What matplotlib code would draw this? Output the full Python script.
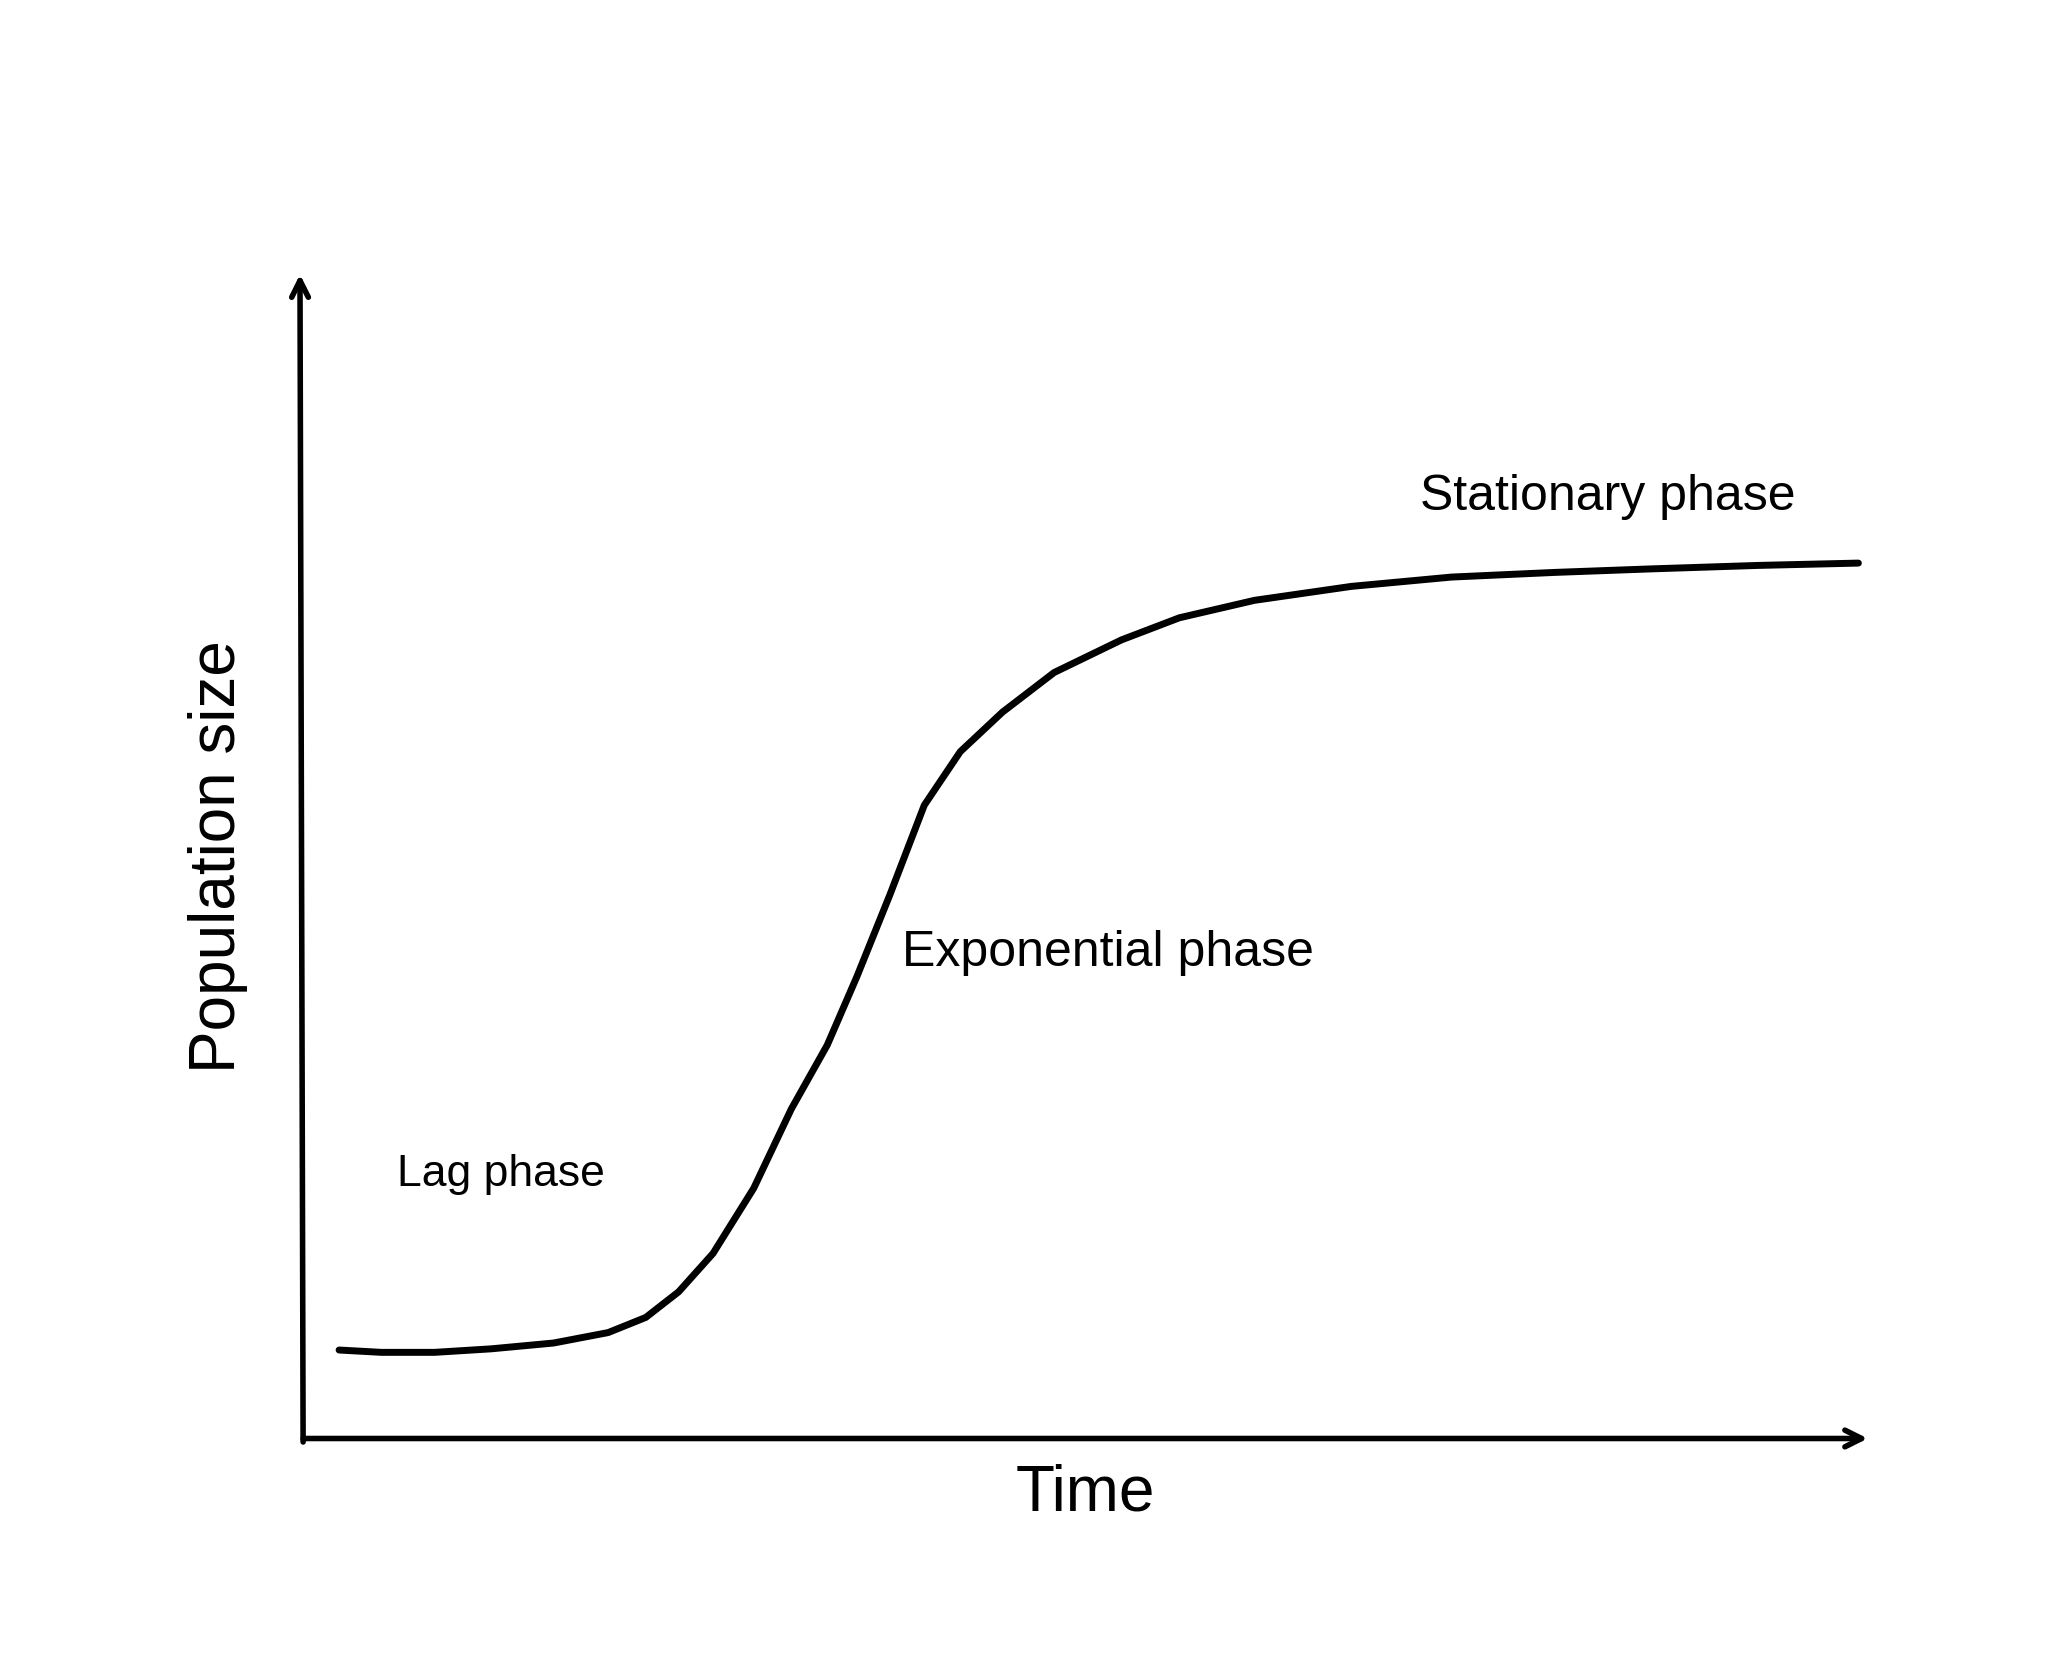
import matplotlib
matplotlib.use("Agg")
import matplotlib.pyplot as plt

plt.rcParams['font.family'] = ['Liberation Sans', 'DejaVu Sans']

time = [2.3, 5, 8.4, 12, 16.0, 19.5, 21.9, 24, 26.2, 28.8, 31.2, 33.5, 35.4, 37.5, 39.7, 42, 44.7, 48, 52.3, 56, 60.8, 67, 73.4, 80, 86.1, 93, 99.4]
population = [7.6, 7.4, 7.4, 7.7, 8.2, 9.1, 10.4, 12.6, 15.9, 21.5, 28.3, 33.8, 39.7, 46.7, 54.4, 59.0, 62.4, 65.8, 68.6, 70.5, 72.0, 73.2, 74.0, 74.4, 74.7, 75.0, 75.2]
labels = ["Lag phase", "Exponential phase", "Stationary phase"]
label_x = [6.0, 38.3, 71.4]
label_y = [22.7, 41.7, 80.9]

fig = plt.figure(figsize=(20.48, 16.63), dpi=100)
ax = fig.add_axes([0.148, 0.135, 0.764, 0.700])
ax.set_xlim(0, 100)
ax.set_ylim(0, 100)
for s in ax.spines.values():
    s.set_visible(False)
ax.set_xticks([]); ax.set_yticks([])

arrow = dict(arrowstyle='->', lw=4, color='black', mutation_scale=30, shrinkA=0, shrinkB=0)
ax.annotate('', xy=(100, 0), xytext=(0, 0), arrowprops=arrow, annotation_clip=False)
ax.annotate('', xy=(-0.2, 100), xytext=(0, -0.3), arrowprops=arrow, annotation_clip=False)

ax.plot(time, population, color='black', lw=5, solid_capstyle='round', solid_joinstyle='round')

for t, x, y in zip(labels, label_x, label_y):
    fs = 32 if t == "Lag phase" else 36
    ax.text(x, y, t, fontsize=fs, ha='left', va='center')

ax.set_xlabel("Time", fontsize=46, labelpad=18)
ax.set_ylabel("Population size", fontsize=46, labelpad=40)

fig.savefig("out.png", dpi=100, facecolor='white')
